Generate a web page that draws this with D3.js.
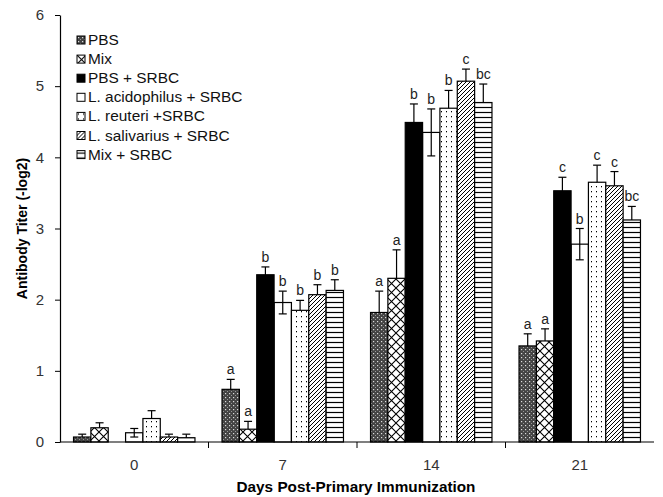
<!DOCTYPE html>
<html>
<head>
<meta charset="utf-8">
<script src="https://cdn.jsdelivr.net/npm/d3@7"></script>
<style>
  body { margin: 0; background: #fff; }
  text { font-family: Arial, "Liberation Sans", sans-serif; }
</style>
</head>
<body>
<svg id="chart"></svg>
<script>
// data
const days = ["0", "7", "14", "21"];
const groups = ["PBS", "Mix", "PBS + SRBC", "L. acidophilus + SRBC", "L. reuteri +SRBC", "L. salivarius + SRBC", "Mix + SRBC"];

const pbs       = [0.07, 0.74, 1.82, 1.35];
const mix       = [0.20, 0.18, 2.30, 1.42];
const pbsSrbc   = [0.00, 2.35, 4.49, 3.53];
const acidSrbc  = [0.13, 1.96, 4.35, 2.78];
const reutSrbc  = [0.33, 1.85, 4.69, 3.65];
const salSrbc   = [0.07, 2.07, 5.07, 3.60];
const mixSrbc   = [0.06, 2.13, 4.77, 3.12];

const pbsErr      = [0.04, 0.14, 0.30, 0.17];
const mixErr      = [0.07, 0.11, 0.40, 0.17];
const pbsSrbcErr  = [0.00, 0.11, 0.26, 0.19];
const acidSrbcErr = [0.06, 0.16, 0.33, 0.22];
const reutSrbcErr = [0.11, 0.14, 0.25, 0.24];
const salSrbcErr  = [0.04, 0.14, 0.17, 0.20];
const mixSrbcErr  = [0.05, 0.15, 0.26, 0.19];

const letters = [
  ["", "a", "a", "a"],
  ["", "a", "a", "a"],
  ["", "b", "b", "c"],
  ["", "b", "b", "b"],
  ["", "b", "b", "c"],
  ["", "b", "c", "c"],
  ["", "b", "bc", "bc"]
];

const yTicks = [0, 1, 2, 3, 4, 5, 6];

const values = [pbs, mix, pbsSrbc, acidSrbc, reutSrbc, salSrbc, mixSrbc];
const errors = [pbsErr, mixErr, pbsSrbcErr, acidSrbcErr, reutSrbcErr, salSrbcErr, mixSrbcErr];

const width = 663, height = 497;
const margin = { top: 15, right: 9, bottom: 55, left: 60 };

const svg = d3.select("#chart").attr("width", width).attr("height", height);

// patterns
const defs = svg.append("defs");

function pattern(id, size, draw) {
  const p = defs.append("pattern")
    .attr("id", id)
    .attr("patternUnits", "userSpaceOnUse")
    .attr("width", size).attr("height", size);
  p.append("rect").attr("width", size).attr("height", size).attr("fill", "#fff");
  draw(p);
}

pattern("pCheck", 4, p => {
  p.append("rect").attr("width", 4).attr("height", 4).attr("fill", "#444");
  p.append("rect").attr("x", 1).attr("y", 1).attr("width", 1.2).attr("height", 1.2).attr("fill", "#ddd");
  p.append("rect").attr("x", 3).attr("y", 3).attr("width", 1).attr("height", 1).attr("fill", "#999");
});
pattern("pDiamond", 9, p => {
  p.append("path").attr("d", "M0,0L9,9M9,0L0,9").attr("stroke", "#000").attr("stroke-width", 1.1);
});
pattern("pDots", 5, p => {
  p.append("rect").attr("x", 1).attr("y", 1).attr("width", 1).attr("height", 1.3).attr("fill", "#000");
});
pattern("pDiag", 4, p => {
  p.append("path").attr("d", "M-1,1L1,-1M0,4L4,0M3,5L5,3").attr("stroke", "#000").attr("stroke-width", 1);
});
pattern("pHoriz", 5, p => {
  p.append("path").attr("d", "M0,2.5H5").attr("stroke", "#000").attr("stroke-width", 1.2);
});

const fills = ["url(#pCheck)", "url(#pDiamond)", "#000", "none", "url(#pDots)", "url(#pDiag)", "url(#pHoriz)"];

const x0 = d3.scaleBand()
  .domain(days)
  .range([margin.left, width - margin.right])
  .paddingInner(0).paddingOuter(0);

const x1 = d3.scaleBand()
  .domain(groups)
  .range([0, x0.bandwidth()])
  .paddingInner(0)
  .paddingOuter(0.78);

const y = d3.scaleLinear()
  .domain([0, 6])
  .range([height - margin.bottom, margin.top]);

// rows of bar records
const rows = [];
groups.forEach((g, gi) => {
  days.forEach((d, di) => {
    rows.push({ g, gi, d, v: values[gi][di], e: errors[gi][di], lab: letters[gi][di] });
  });
});

const plot = svg.append("g");

// error bars (under the bars so filled bars hide the lower half)
const eb = plot.selectAll(".err").data(rows.filter(r => r.e > 0)).enter().append("g")
  .attr("stroke", "#000").attr("stroke-width", 1.2);
eb.each(function(r) {
  const cx = x0(r.d) + x1(r.g) + x1.bandwidth() / 2;
  const sel = d3.select(this);
  sel.append("line").attr("x1", cx).attr("x2", cx).attr("y1", y(r.v - r.e)).attr("y2", y(r.v + r.e));
  sel.append("line").attr("x1", cx - 4).attr("x2", cx + 4).attr("y1", y(r.v + r.e)).attr("y2", y(r.v + r.e));
  sel.append("line").attr("x1", cx - 4).attr("x2", cx + 4).attr("y1", y(r.v - r.e)).attr("y2", y(r.v - r.e));
});

// bars
plot.selectAll(".bar").data(rows.filter(r => r.v > 0)).enter().append("rect")
  .attr("x", r => x0(r.d) + x1(r.g))
  .attr("y", r => y(r.v))
  .attr("width", x1.bandwidth())
  .attr("height", r => y(0) - y(r.v))
  .attr("fill", r => fills[r.gi])
  .attr("stroke", "#000")
  .attr("stroke-width", 1.2);

// significance letters
plot.selectAll(".lab").data(rows.filter(r => r.lab)).enter().append("text")
  .attr("x", r => x0(r.d) + x1(r.g) + x1.bandwidth() / 2)
  .attr("y", r => y(r.v + r.e) - 5)
  .attr("text-anchor", "middle")
  .attr("font-size", 14)
  .attr("fill", "#222")
  .text(r => r.lab);

// y axis
const yAxis = svg.append("g")
  .attr("transform", `translate(${margin.left},0)`)
  .call(d3.axisLeft(y).tickValues(yTicks).tickFormat(d3.format("d")).tickSize(5).tickPadding(11).tickSizeOuter(0));
yAxis.select(".domain").attr("stroke-width", 1.2);
yAxis.selectAll("text").attr("font-size", 15).attr("fill", "#333");

// x axis
const xAxis = svg.append("g")
  .attr("transform", `translate(0,${y(0)})`);
xAxis.append("line")
  .attr("x1", margin.left).attr("x2", width - margin.right)
  .attr("stroke", "#000").attr("stroke-width", 1.2);
xAxis.selectAll(".tk").data(days.slice(1)).enter().append("line")
  .attr("x1", d => x0(d)).attr("x2", d => x0(d))
  .attr("y1", 0).attr("y2", 6)
  .attr("stroke", "#000");
xAxis.selectAll(".xl").data(days).enter().append("text")
  .attr("x", d => x0(d) + x0.bandwidth() / 2)
  .attr("y", 28)
  .attr("text-anchor", "middle")
  .attr("font-size", 15)
  .attr("fill", "#333")
  .text(d => d);

svg.append("text")
  .attr("x", (margin.left + width - margin.right) / 2 - 1)
  .attr("y", 492)
  .attr("text-anchor", "middle")
  .attr("font-size", 15.3)
  .attr("font-weight", "bold")
  .text("Days Post-Primary Immunization");

svg.append("text")
  .attr("transform", `translate(27,${y(3)}) rotate(-90)`)
  .attr("text-anchor", "middle")
  .attr("font-size", 14)
  .attr("font-weight", "bold")
  .text("Antibody Titer (-log2)");

// legend
const legend = svg.append("g").attr("transform", "translate(77,36)");
const li = legend.selectAll(".li").data(groups).enter().append("g")
  .attr("transform", (d, i) => `translate(0,${i * 19.1})`);
li.append("rect")
  .attr("width", 8).attr("height", 8)
  .attr("fill", (d, i) => i === 3 ? "#fff" : fills[i])
  .attr("stroke", "#000").attr("stroke-width", 1);
li.append("text")
  .attr("x", 11).attr("y", 9)
  .attr("font-size", 15.4)
  .attr("fill", "#111")
  .text(d => d);
</script>
</body>
</html>
